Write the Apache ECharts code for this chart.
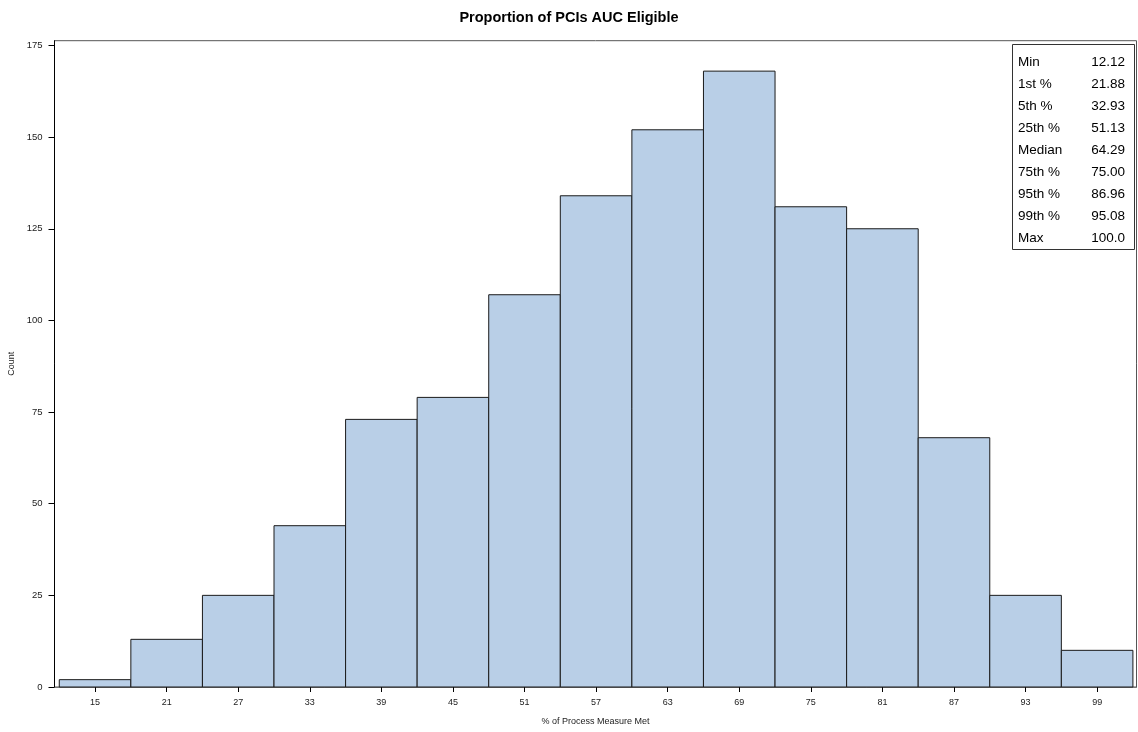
<!DOCTYPE html>
<html>
<head>
<meta charset="utf-8">
<script src="https://cdn.jsdelivr.net/npm/echarts@6/dist/echarts.min.js"></script>
<style>
html,body{margin:0;padding:0;background:#fff;}
#chart{width:1138px;height:732px;}
</style>
</head>
<body>
<div id="chart"></div>
<script>
// ---- data ----
const binMids = [15, 21, 27, 33, 39, 45, 51, 57, 63, 69, 75, 81, 87, 93, 99];
const binWidth = 6;
const counts = [2, 13, 25, 44, 73, 79, 107, 134, 152, 168, 131, 125, 68, 25, 10];
const yTicks = [0, 25, 50, 75, 100, 125, 150, 175];
const statLabels = ['Min', '1st %', '5th %', '25th %', 'Median', '75th %', '95th %', '99th %', 'Max'];
const statValues = ['12.12', '21.88', '32.93', '51.13', '64.29', '75.00', '86.96', '95.08', '100.0'];
const titleText = 'Proportion of PCIs AUC Eligible';
const xName = '% of Process Measure Met';
const yName = 'Count';

// ---- build ----
const barData = binMids.map((m, i) => [m - binWidth / 2, m + binWidth / 2, counts[i]]);

const chart = echarts.init(document.getElementById('chart'), null, {renderer: 'canvas'});

const FONT = 'Liberation Sans, Arial, sans-serif';

const statGraphics = [];
const boxX = 1012, boxY = 44, boxW = 122, rowH = 22;
statGraphics.push({
  type: 'rect',
  shape: {x: boxX + 0.5, y: boxY + 0.5, width: boxW, height: rowH * statLabels.length + 7},
  style: {fill: '#fff', stroke: '#333', lineWidth: 1},
  z: 100
});
statLabels.forEach((lab, i) => {
  const cy = boxY + 18 + i * rowH;
  statGraphics.push({
    type: 'text', z: 101,
    style: {x: boxX + 6, y: cy, text: lab, fill: '#000', font: '13.5px ' + FONT, textAlign: 'left', textVerticalAlign: 'middle'}
  });
  statGraphics.push({
    type: 'text', z: 101,
    style: {x: boxX + boxW - 9, y: cy, text: statValues[i], fill: '#000', font: '13.5px ' + FONT, textAlign: 'right', textVerticalAlign: 'middle'}
  });
});

const option = {
  animation: false,
  backgroundColor: '#fff',
  title: {
    text: titleText,
    left: 'center', top: 5,
    textStyle: {fontFamily: FONT, fontSize: 14.5, fontWeight: 'bold', color: '#000'}
  },
  grid: {
    left: 54.5, right: 1.5, top: 40.7, bottom: 45,
    outerBoundsMode: 'none',
    containLabel: false,
    show: true, borderColor: '#555', borderWidth: 1, backgroundColor: 'transparent'
  },
  xAxis: {
    type: 'value',
    min: 11.6, max: 102.3,
    name: xName,
    nameLocation: 'middle',
    nameGap: 30,
    nameTextStyle: {fontFamily: FONT, fontSize: 9, color: '#222'},
    axisLine: {show: true, lineStyle: {color: '#777', width: 1}},
    axisTick: {show: true, customValues: binMids, length: 5, lineStyle: {color: '#000'}},
    axisLabel: {customValues: binMids, fontFamily: FONT, fontSize: 9, color: '#222', margin: 11},
    splitLine: {show: false}
  },
  yAxis: {
    type: 'value',
    min: 0, max: 176.3,
    name: yName,
    nameLocation: 'middle',
    nameGap: 37,
    nameRotate: 90,
    nameTextStyle: {fontFamily: FONT, fontSize: 9, color: '#222'},
    axisLine: {show: true, lineStyle: {color: '#000', width: 1}},
    axisTick: {show: true, customValues: yTicks, length: 6, lineStyle: {color: '#000'}},
    axisLabel: {customValues: yTicks, fontFamily: FONT, fontSize: 9.5, color: '#222', margin: 12},
    splitLine: {show: false}
  },
  series: [{
    type: 'custom',
    renderItem: function (params, api) {
      const p0 = api.coord([api.value(0), api.value(2)]);
      const p1 = api.coord([api.value(1), 0]);
      return {
        type: 'rect',
        shape: {x: p0[0], y: p0[1], width: p1[0] - p0[0], height: p1[1] - p0[1]},
        style: {fill: '#B9CFE7', stroke: '#1a1a1a', lineWidth: 1}
      };
    },
    encode: {x: [0, 1], y: 2},
    data: barData,
    z: 2
  }],
  graphic: statGraphics
};

chart.setOption(option);
</script>
</body>
</html>
